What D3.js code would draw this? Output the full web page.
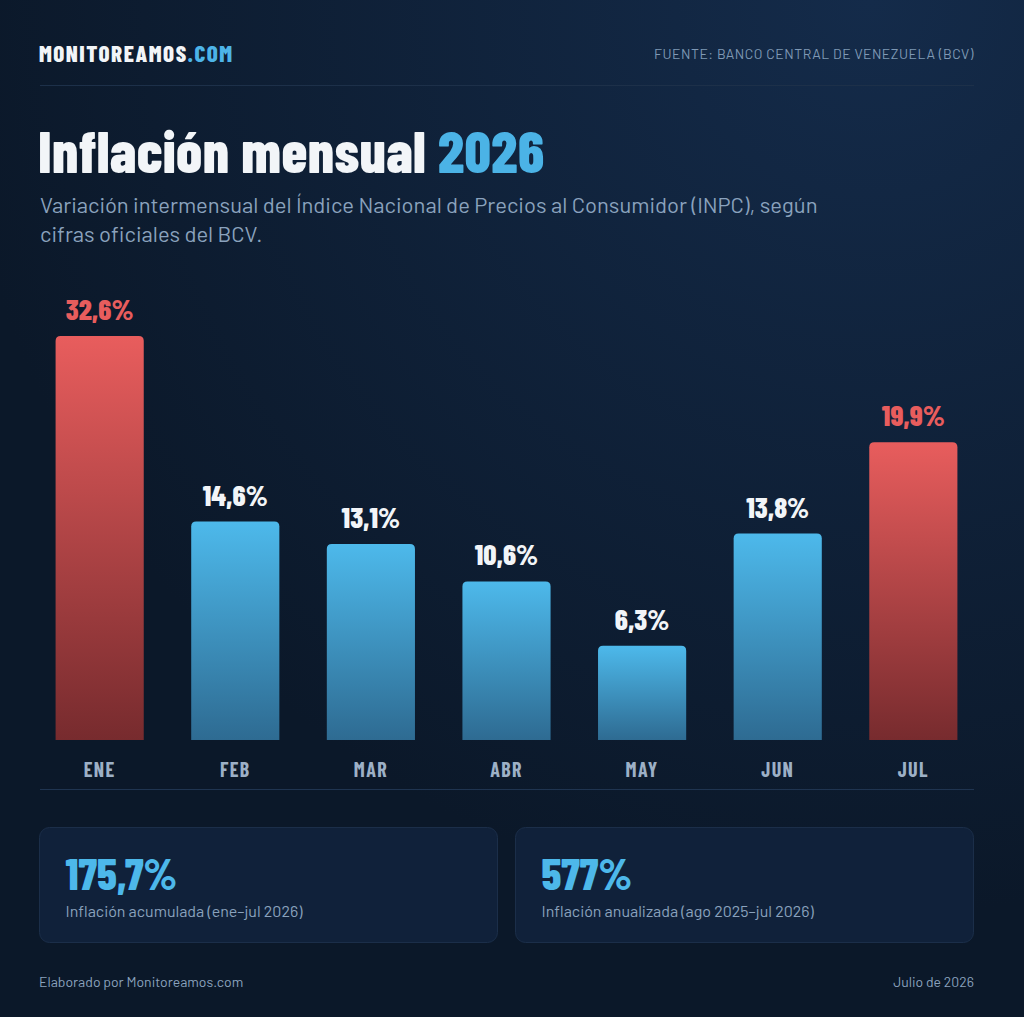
<!DOCTYPE html>
<meta charset="utf-8">
<head>
<script src="https://d3js.org/d3.v7.min.js"></script>
<style>
  body { margin: 0; background: #0c1a2e; }
  .cond { font-family: "Barlow Condensed", "Roboto Condensed", "Liberation Sans Narrow", sans-serif; }
  .reg { font-family: Barlow, Roboto, "Noto Sans", sans-serif; }
</style>
</head>
<body>
<div id="chart"></div>
<script>

// data
var months = ["ENE", "FEB", "MAR", "ABR", "MAY", "JUN", "JUL"];
var values = [32.6, 14.6, 13.1, 10.6, 6.3, 13.8, 19.9];
var highlight = ["ENE", "JUL"];
var valueLabels = ["32,6%", "14,6%", "13,1%", "10,6%", "6,3%", "13,8%", "19,9%"];
var cardValues = ["175,7%", "577%"];
var cardLabels = ["Inflación acumulada (ene–jul 2026)", "Inflación anualizada (ago 2025–jul 2026)"];

var width = 1024, height = 1017;

var svg = d3.select("#chart")
  .append("svg")
    .attr("width", width)
    .attr("height", height);

var defs = svg.append("defs");

// background glow top right
var bg = defs.append("radialGradient").attr("id", "bg")
  .attr("cx", 0.85).attr("cy", 0).attr("r", 0.9);
bg.append("stop").attr("offset", "0%").attr("stop-color", "#142b4a");
bg.append("stop").attr("offset", "100%").attr("stop-color", "#0b1829");

var gBlue = defs.append("linearGradient").attr("id", "gBlue")
  .attr("x1", 0).attr("y1", 0).attr("x2", 0).attr("y2", 1);
gBlue.append("stop").attr("offset", "0%").attr("stop-color", "#4db9eb");
gBlue.append("stop").attr("offset", "100%").attr("stop-color", "#2e6b92");

var gRed = defs.append("linearGradient").attr("id", "gRed")
  .attr("x1", 0).attr("y1", 0).attr("x2", 0).attr("y2", 1);
gRed.append("stop").attr("offset", "0%").attr("stop-color", "#e85d5d");
gRed.append("stop").attr("offset", "100%").attr("stop-color", "#772b2e");

svg.append("rect")
  .attr("width", width).attr("height", height)
  .attr("fill", "url(#bg)");

// header
var logo = svg.append("text")
  .attr("class", "cond")
  .attr("x", 39).attr("y", 62)
  .attr("font-size", "23px").attr("font-weight", 800)
  .attr("letter-spacing", "1.5px")
  .attr("fill", "#f2f5f8");
logo.append("tspan").text("MONITOREAMOS");
logo.append("tspan").attr("fill", "#4db4e8").text(".COM");

svg.append("text")
  .attr("class", "reg")
  .attr("x", 974).attr("y", 59)
  .attr("text-anchor", "end")
  .attr("font-size", "14px")
  .attr("letter-spacing", "0.5px")
  .attr("fill", "#7f99b5")
  .text("FUENTE: BANCO CENTRAL DE VENEZUELA (BCV)");

svg.append("line")
  .attr("x1", 40).attr("x2", 974)
  .attr("y1", 85.5).attr("y2", 85.5)
  .attr("stroke", "#1d3049");

// title
var title = svg.append("text")
  .attr("class", "cond")
  .attr("x", 38).attr("y", 173)
  .attr("font-size", "58px").attr("font-weight", 800)
  .attr("letter-spacing", "0.35px")
  .attr("fill", "#f2f5f8");
title.append("tspan").text("Inflación mensual ");
title.append("tspan").attr("fill", "#4bb3e6").text("2026");

svg.selectAll(".sub")
  .data(["Variación intermensual del Índice Nacional de Precios al Consumidor (INPC), según",
         "cifras oficiales del BCV."])
  .enter()
  .append("text")
    .attr("class", "reg")
    .attr("x", 40)
    .attr("y", function(d, i){ return 213 + i * 29 })
    .attr("font-size", "22px")
    .attr("fill", "#8aa2bd")
    .text(function(d){ return d });

// scales
var x = d3.scaleBand()
  .domain(months)
  .range([40, 973])
  .paddingInner(0.35)
  .paddingOuter(0.115);

// tallest bar is capped at the top of the plot
var y = d3.scaleLinear()
  .domain([0, 27])
  .range([740, 336])
  .clamp(true);

function topRounded(x0, y0, w, h, r) {
  return "M" + x0 + "," + (y0 + h) +
    "V" + (y0 + r) +
    "Q" + x0 + "," + y0 + " " + (x0 + r) + "," + y0 +
    "H" + (x0 + w - r) +
    "Q" + (x0 + w) + "," + y0 + " " + (x0 + w) + "," + (y0 + r) +
    "V" + (y0 + h) + "Z";
}

var bars = months.map(function(m, i){ return {m: m, v: values[i], label: valueLabels[i]} });

svg.selectAll(".bar")
  .data(bars)
  .enter()
  .append("path")
    .attr("d", function(d){
      return topRounded(x(d.m), y(d.v), x.bandwidth(), y(0) - y(d.v), 5);
    })
    .attr("fill", function(d){ return highlight.indexOf(d.m) >= 0 ? "url(#gRed)" : "url(#gBlue)" });

svg.selectAll(".val")
  .data(bars)
  .enter()
  .append("text")
    .attr("class", "cond")
    .attr("x", function(d){ return x(d.m) + x.bandwidth() / 2 })
    .attr("y", function(d){ return y(d.v) - 16 })
    .attr("text-anchor", "middle")
    .attr("font-size", "29px").attr("font-weight", 800)
    .attr("fill", function(d){ return highlight.indexOf(d.m) >= 0 ? "#e85d5d" : "#f2f5f8" })
    .text(function(d){ return d.label });

// month axis
svg.append("g")
  .attr("transform", "translate(0,740)")
  .call(d3.axisBottom(x).tickSize(0).tickPadding(37))
  .call(function(g){ g.select(".domain").remove() })
  .selectAll("text")
    .attr("class", "cond")
    .attr("font-size", "20px").attr("font-weight", 700)
    .attr("letter-spacing", "1.4px")
    .attr("fill", "#9db0c6")
    .attr("dy", 0);

svg.append("line")
  .attr("x1", 40).attr("x2", 974)
  .attr("y1", 789.5).attr("y2", 789.5)
  .attr("stroke", "#1f3450");

// summary cards
var cards = svg.selectAll(".card")
  .data(cardValues)
  .enter()
  .append("g")
    .attr("transform", function(d, i){ return "translate(" + (39.5 + i * 476) + ",827.5)" });

cards.append("rect")
  .attr("width", 458).attr("height", 115)
  .attr("rx", 10)
  .attr("fill", "#10213a")
  .attr("stroke", "#1b2e49");

cards.append("text")
  .attr("class", "cond")
  .attr("x", 26).attr("y", 62)
  .attr("font-size", "44px").attr("font-weight", 800)
  .attr("fill", "#4db8ea")
  .text(function(d){ return d });

cards.append("text")
  .attr("class", "reg")
  .attr("x", 26).attr("y", 89)
  .attr("font-size", "16px")
  .attr("fill", "#8aa2bd")
  .text(function(d, i){ return cardLabels[i] });

// footer
svg.append("text")
  .attr("class", "reg")
  .attr("x", 39).attr("y", 987)
  .attr("font-size", "14px")
  .attr("fill", "#8aa2bd")
  .text("Elaborado por Monitoreamos.com");

svg.append("text")
  .attr("class", "reg")
  .attr("x", 974).attr("y", 987)
  .attr("text-anchor", "end")
  .attr("font-size", "14px")
  .attr("fill", "#8aa2bd")
  .text("Julio de 2026");

</script>
</body>
